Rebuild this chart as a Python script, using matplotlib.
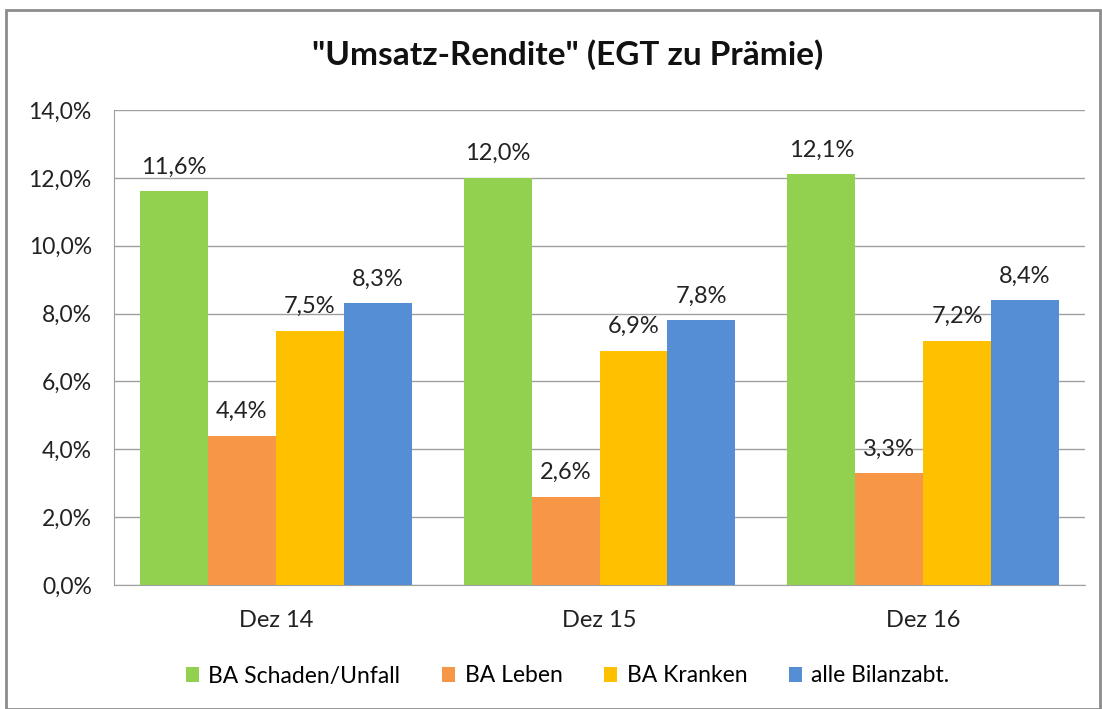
import matplotlib.pyplot as plt
import numpy as np
from matplotlib.patches import Rectangle

plt.rcParams['font.family'] = ['Lato', 'DejaVu Sans']

kategorien = ["Dez 14", "Dez 15", "Dez 16"]
serien = ["BA Schaden/Unfall", "BA Leben", "BA Kranken", "alle Bilanzabt."]
schaden = [11.6, 12.0, 12.1]
leben = [4.4, 2.6, 3.3]
kranken = [7.5, 6.9, 7.2]
alle = [8.3, 7.8, 8.4]
farben = ["#92D050", "#F79646", "#FFC000", "#558ED5"]


def fmt(v):
    return "{:.1f}%".format(v).replace(".", ",")


fig = plt.figure(figsize=(11.02, 7.09), dpi=100)
ax = fig.add_axes([114 / 1102, 1 - 585 / 709, (1085 - 114) / 1102, (585 - 110) / 709])

x = np.arange(len(kategorien))
breite = 0.21
werte = [schaden, leben, kranken, alle]
for i, (name, w, c) in enumerate(zip(serien, werte, farben)):
    pos = x + (i - 1.5) * breite
    ax.bar(pos, w, breite, color=c, label=name, zorder=3)
    for px, v in zip(pos, w):
        ax.text(px, v + 0.4, fmt(v), ha="center", va="bottom", fontsize=17, color="#222222")

ax.set_xlim(-0.5, 2.5)
ax.set_ylim(0, 14)
ax.set_yticks(np.arange(0, 14.1, 2))
ax.set_yticklabels([fmt(v) for v in np.arange(0, 14.1, 2)], fontsize=16.5, color="#222222")
ax.set_xticks(x)
ax.set_xticklabels(kategorien, fontsize=17, color="#222222")
ax.tick_params(axis="y", length=0, pad=16)
ax.tick_params(axis="x", length=0, pad=18)
ax.grid(axis="y", color="#A0A0A0", linewidth=1, zorder=0)
for s in ["top", "right"]:
    ax.spines[s].set_visible(False)
ax.spines["left"].set_color("#A0A0A0")
ax.spines["bottom"].set_color("#A0A0A0")

fig.text(0.515, 1 - 55 / 709, '"Umsatz-Rendite" (EGT zu Prämie)', ha="center", va="center",
         fontsize=24, fontweight="bold", color="#111111")

fig.legend(loc="center", bbox_to_anchor=(0.515, 1 - 676 / 709), ncol=4, frameon=False,
           fontsize=16.5, handlelength=0.6, handleheight=0.6, handletextpad=0.4, columnspacing=1.8)

fig.patches.append(Rectangle((6 / 1102, 0), 1094 / 1102, 1 - 10 / 709, transform=fig.transFigure,
                             fill=False, edgecolor="#8C8C8C", linewidth=2))

fig.savefig("out.png", dpi=100)
